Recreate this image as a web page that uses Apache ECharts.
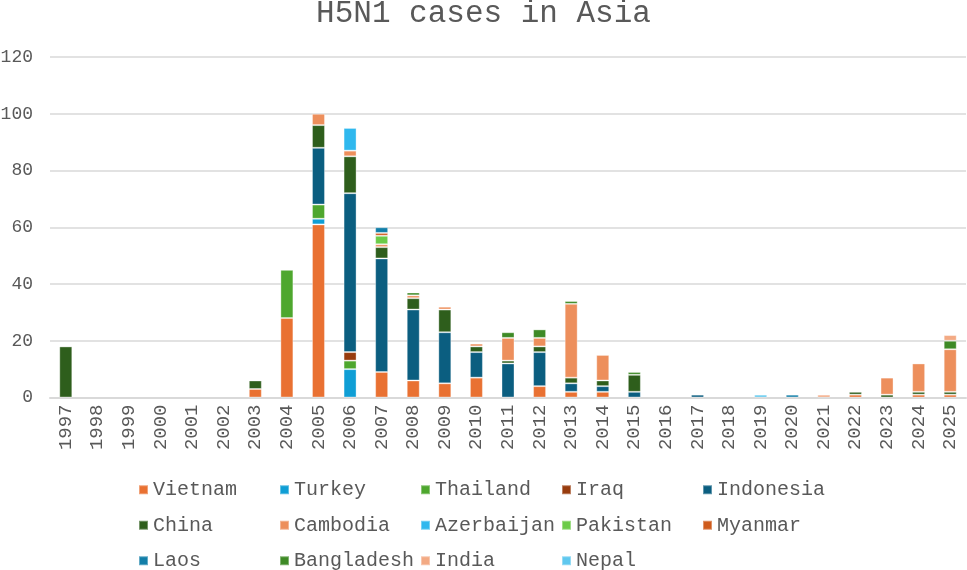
<!DOCTYPE html>
<html>
<head>
<meta charset="utf-8">
<script src="https://cdn.jsdelivr.net/npm/echarts@6/dist/echarts.min.js"></script>
<style>
  html, body { margin: 0; padding: 0; background: #fff; }
  #chart { width: 967px; height: 570px; }
</style>
</head>
<body>
<div id="chart"></div>
<script>
// years 1997..2025
var years = [];
for (var y = 1997; y <= 2025; y++) years.push(String(y));

var yTicks = [0, 20, 40, 60, 80, 100, 120];

//              97 98 99 00 01 02 03  04  05  06  07  08  09  10  11  12  13  14  15  16  17  18  19  20  21  22  23  24  25
var vietnam    = [0, 0, 0, 0, 0, 0, 3, 28, 61,  0,  9,  6,  5,  7,  0,  4,  2,  2,  0,  0,  0,  0,  0,  0,  0,  1,  0,  1,  1];
var turkey     = [0, 0, 0, 0, 0, 0, 0,  0,  2, 10,  0,  0,  0,  0,  0,  0,  0,  0,  0,  0,  0,  0,  0,  0,  0,  0,  0,  0,  0];
var thailand   = [0, 0, 0, 0, 0, 0, 0, 17,  5,  3,  0,  0,  0,  0,  0,  0,  0,  0,  0,  0,  0,  0,  0,  0,  0,  0,  0,  0,  0];
var iraq       = [0, 0, 0, 0, 0, 0, 0,  0,  0,  3,  0,  0,  0,  0,  0,  0,  0,  0,  0,  0,  0,  0,  0,  0,  0,  0,  0,  0,  0];
var indonesia  = [0, 0, 0, 0, 0, 0, 0,  0, 20, 56, 40, 25, 18,  9, 12, 12,  3,  2,  2,  0,  1,  0,  0,  0,  0,  0,  0,  0,  0];
var china      = [18,0, 0, 0, 0, 0, 3,  0,  8, 13,  4,  4,  8,  2,  1,  2,  2,  2,  6,  0,  0,  0,  0,  0,  0,  1,  1,  1,  1];
var cambodia   = [0, 0, 0, 0, 0, 0, 0,  0,  4,  2,  1,  1,  1,  1,  8,  3, 26,  9,  0,  0,  0,  0,  0,  0,  0,  0,  6, 10, 15];
var azerbaijan = [0, 0, 0, 0, 0, 0, 0,  0,  0,  8,  0,  0,  0,  0,  0,  0,  0,  0,  0,  0,  0,  0,  0,  0,  0,  0,  0,  0,  0];
var pakistan   = [0, 0, 0, 0, 0, 0, 0,  0,  0,  0,  3,  0,  0,  0,  0,  0,  0,  0,  0,  0,  0,  0,  0,  0,  0,  0,  0,  0,  0];
var myanmar    = [0, 0, 0, 0, 0, 0, 0,  0,  0,  0,  1,  0,  0,  0,  0,  0,  0,  0,  0,  0,  0,  0,  0,  0,  0,  0,  0,  0,  0];
var laos       = [0, 0, 0, 0, 0, 0, 0,  0,  0,  0,  2,  0,  0,  0,  0,  0,  0,  0,  0,  0,  0,  0,  0,  1,  0,  0,  0,  0,  0];
var bangladesh = [0, 0, 0, 0, 0, 0, 0,  0,  0,  0,  0,  1,  0,  0,  2,  3,  1,  0,  1,  0,  0,  0,  0,  0,  0,  0,  0,  0,  3];
var india      = [0, 0, 0, 0, 0, 0, 0,  0,  0,  0,  0,  0,  0,  0,  0,  0,  0,  0,  0,  0,  0,  0,  0,  0,  1,  0,  0,  0,  2];
var nepal      = [0, 0, 0, 0, 0, 0, 0,  0,  0,  0,  0,  0,  0,  0,  0,  0,  0,  0,  0,  0,  0,  0,  1,  0,  0,  0,  0,  0,  0];

var countries = [
  ["Vietnam", vietnam, "#E97132"],
  ["Turkey", turkey, "#0F9ED5"],
  ["Thailand", thailand, "#4EA72E"],
  ["Iraq", iraq, "#983C0E"],
  ["Indonesia", indonesia, "#0B5E80"],
  ["China", china, "#2E5E1C"],
  ["Cambodia", cambodia, "#ED8F5C"],
  ["Azerbaijan", azerbaijan, "#2FB8EE"],
  ["Pakistan", pakistan, "#6CCB48"],
  ["Myanmar", myanmar, "#CF5B1C"],
  ["Laos", laos, "#127EA8"],
  ["Bangladesh", bangladesh, "#3E8A26"],
  ["India", india, "#F3AA84"],
  ["Nepal", nepal, "#5FC8EF"]
];

var font = "Liberation Mono";
var grey = "#595959";

var chart = echarts.init(document.getElementById("chart"));

var series = countries.map(function (c) {
  return {
    name: c[0],
    type: "bar",
    stack: "total",
    barWidth: 13,
    data: c[1].map(function (v) { return v === 0 ? null : v; }),
    itemStyle: {
      color: c[2],
      borderColor: "rgba(255,255,255,0.35)",
      borderWidth: 1
    }
  };
});

var option = {
  animation: false,
  title: {
    text: "H5N1 cases in Asia",
    left: "center",
    top: -7,
    textStyle: { fontFamily: font, fontSize: 31, fontWeight: "normal", color: grey }
  },
  grid: { left: 50, right: 1, top: 57, bottom: 172.5, containLabel: false, outerBoundsMode: "none" },
  legend: {
    left: 133,
    top: 470,
    width: 720,
    itemWidth: 9,
    itemHeight: 9,
    itemGap: 6,
    icon: "rect",
    textStyle: {
      fontFamily: font,
      fontSize: 20,
      color: grey,
      width: 120,
      lineHeight: 29.5,
      overflow: "none"
    },
    data: countries.map(function (c) { return c[0]; })
  },
  xAxis: {
    type: "category",
    data: years,
    axisLine: { lineStyle: { color: "#d9d9d9", width: 2 } },
    axisTick: { show: false },
    axisLabel: {
      rotate: 90,
      interval: 0,
      margin: 7,
      fontFamily: font,
      fontSize: 19,
      color: grey
    }
  },
  yAxis: {
    type: "value",
    min: yTicks[0],
    max: yTicks[yTicks.length - 1],
    interval: yTicks[1] - yTicks[0],
    axisLine: { show: false },
    axisTick: { show: false },
    splitLine: { lineStyle: { color: "#d9d9d9", width: 1.5 } },
    axisLabel: {
      margin: 17,
      fontFamily: font,
      fontSize: 18,
      color: grey
    }
  },
  series: series
};

chart.setOption(option);
</script>
</body>
</html>
